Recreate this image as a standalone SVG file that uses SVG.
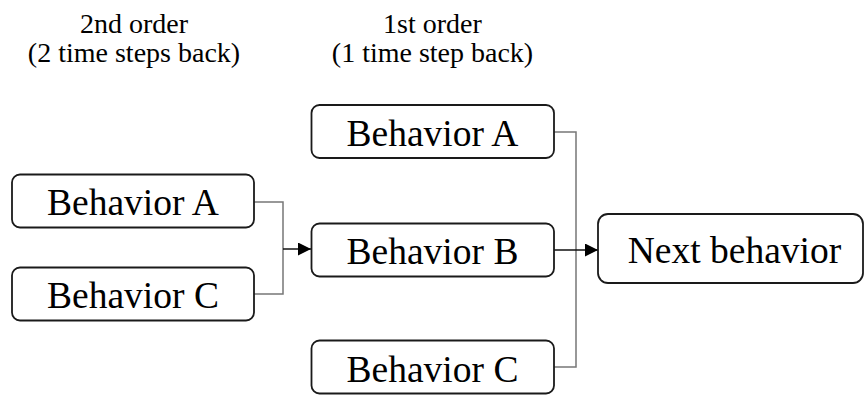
<svg xmlns="http://www.w3.org/2000/svg" width="864" height="395" viewBox="0 0 864 395">
  <defs>
    <style>
      .box { fill: #fff; stroke: #1a1a1a; stroke-width: 1.8; }
      .label { font-size: 37.5px; fill: #000; text-anchor: middle; }
      .head { font-size: 28px; fill: #000; text-anchor: middle; }
      .link { fill: none; stroke: #777; stroke-width: 1.5; }
      .arrow { fill: none; stroke: #111; stroke-width: 1.5; marker-end: url(#head); }
    </style>
    <marker id="head" viewBox="0 0 10 10" refX="10" refY="5" markerWidth="13" markerHeight="13" markerUnits="userSpaceOnUse" orient="auto">
      <path d="M0,0 L10,5 L0,10 Z" fill="#000"/>
    </marker>
  </defs>
  <rect width="864" height="395" fill="#fff"/>

  <g font-family="'Liberation Serif', 'Times New Roman', Times, serif">
    <!-- column headings -->
    <g id="heading-2nd">
      <text class="head" x="134" y="33">2nd order</text>
      <text class="head" x="134" y="62">(2 time steps back)</text>
    </g>
    <g id="heading-1st">
      <text class="head" x="432.5" y="33">1st order</text>
      <text class="head" x="432.5" y="62">(1 time step back)</text>
    </g>

    <!-- connectors -->
    <g id="connectors">
      <polyline class="link" points="254,202 283,202 283,294 254,294"/>
      <line class="arrow" x1="283" y1="249" x2="311" y2="249"/>
      <polyline class="link" points="554,132 576,132 576,367 554,367"/>
      <line class="arrow" x1="554" y1="250" x2="598" y2="250"/>
    </g>

    <!-- 2nd order nodes -->
    <g id="n2-behavior-a">
      <rect class="box" x="12" y="174.5" width="242" height="53" rx="8"/>
      <text class="label" x="133" y="215">Behavior A</text>
    </g>
    <g id="n2-behavior-c">
      <rect class="box" x="12" y="267.5" width="242" height="53" rx="8"/>
      <text class="label" x="133" y="308">Behavior C</text>
    </g>

    <!-- 1st order nodes -->
    <g id="n1-behavior-a">
      <rect class="box" x="311.5" y="105" width="242.5" height="53" rx="8"/>
      <text class="label" x="432.5" y="145.5">Behavior A</text>
    </g>
    <g id="n1-behavior-b">
      <rect class="box" x="311.5" y="223.5" width="242.5" height="53" rx="8"/>
      <text class="label" x="432.5" y="264">Behavior B</text>
    </g>
    <g id="n1-behavior-c">
      <rect class="box" x="311.5" y="340.5" width="242.5" height="53" rx="8"/>
      <text class="label" x="432.5" y="381.5">Behavior C</text>
    </g>

    <!-- target node -->
    <g id="next-behavior">
      <rect class="box" x="598" y="214" width="265" height="69" rx="10"/>
      <text class="label" x="734.5" y="263">Next behavior</text>
    </g>
  </g>
</svg>
